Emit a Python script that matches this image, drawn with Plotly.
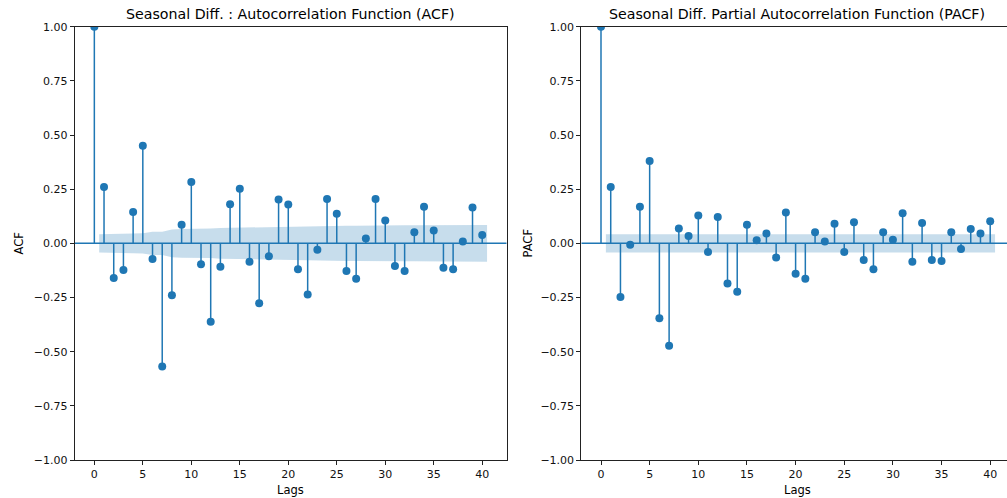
import plotly.graph_objects as go

lags = list(range(0, 41))

acf_vals = [1.0, 0.260, -0.160, -0.123, 0.145, 0.451, -0.072, -0.568, -0.239, 0.086,
            0.283, -0.097, -0.362, -0.108, 0.180, 0.252, -0.085, -0.276, -0.060, 0.202,
            0.179, -0.120, -0.236, -0.029, 0.205, 0.137, -0.128, -0.163, 0.022, 0.205,
            0.105, -0.105, -0.128, 0.051, 0.169, 0.059, -0.113, -0.120, 0.008, 0.165,
            0.038]

pacf_vals = [1.0, 0.260, -0.248, -0.006, 0.169, 0.380, -0.346, -0.473, 0.069, 0.034,
             0.129, -0.040, 0.122, -0.185, -0.223, 0.086, 0.014, 0.046, -0.065, 0.142,
             -0.140, -0.163, 0.051, 0.008, 0.091, -0.040, 0.097, -0.077, -0.120, 0.051,
             0.017, 0.139, -0.085, 0.094, -0.077, -0.082, 0.051, -0.026, 0.066, 0.046,
             0.102]

# confidence band half-widths for lags 1..40
acf_band = [0.042, 0.045, 0.046, 0.046, 0.047, 0.054, 0.054, 0.064, 0.066, 0.066,
            0.068, 0.068, 0.071, 0.072, 0.072, 0.074, 0.074, 0.076, 0.076, 0.077,
            0.078, 0.078, 0.079, 0.079, 0.080, 0.081, 0.081, 0.082, 0.082, 0.083,
            0.083, 0.083, 0.083, 0.083, 0.084, 0.084, 0.084, 0.085, 0.085, 0.085]
pacf_band = [0.042] * 40

ytick_vals = [1.0, 0.75, 0.5, 0.25, 0.0, -0.25, -0.5, -0.75, -1.0]
ytick_text = ["1.00", "0.75", "0.50", "0.25", "0.00", "\u22120.25", "\u22120.50", "\u22120.75", "\u22121.00"]
xtick_vals = [0, 5, 10, 15, 20, 25, 30, 35, 40]

BLUE = "#1f77b4"
FONT = "DejaVu Sans"
W, H = 1007, 498
XR = [-2.025, 42.525]

fig = go.Figure()


def add_panel(vals, band, xa, ya):
    sx, sy = [], []
    for k, v in zip(lags, vals):
        sx += [k, k, None]
        sy += [0, v, None]
    fig.add_trace(go.Scatter(x=sx, y=sy, mode="lines", line=dict(color=BLUE, width=1.5),
                             xaxis=xa, yaxis=ya, hoverinfo="skip", showlegend=False))
    fig.add_trace(go.Scatter(x=lags, y=vals, mode="markers",
                             marker=dict(color=BLUE, size=8),
                             xaxis=xa, yaxis=ya, showlegend=False))
    fig.add_trace(go.Scatter(x=XR, y=[0, 0], mode="lines",
                             line=dict(color=BLUE, width=1.5),
                             xaxis=xa, yaxis=ya, hoverinfo="skip", showlegend=False))
    bx = [float(k) for k in lags[1:]]
    bx[0] -= 0.5
    bx[-1] += 0.5
    fig.add_trace(go.Scatter(x=bx, y=[-b for b in band], mode="lines",
                             line=dict(width=0, color="rgba(0,0,0,0)"),
                             xaxis=xa, yaxis=ya, hoverinfo="skip", showlegend=False))
    fig.add_trace(go.Scatter(x=bx, y=band, mode="lines", fill="tonexty",
                             fillcolor="rgba(31,119,180,0.25)",
                             line=dict(width=0, color="rgba(0,0,0,0)"),
                             xaxis=xa, yaxis=ya, hoverinfo="skip", showlegend=False))


add_panel(acf_vals, acf_band, "x", "y")
add_panel(pacf_vals, pacf_band, "x2", "y2")

ydom = [1 - 460 / H, 1 - 26.7 / H]
axis_common = dict(showgrid=False, zeroline=False, showline=True, linecolor="#222", linewidth=1,
                   ticks="outside", ticklen=4, tickwidth=1, tickcolor="#222", automargin=False,
                   tickfont=dict(family=FONT, size=11, color="#111"))

px_right = 9.73

fig.update_layout(
    width=W, height=H,
    margin=dict(l=0, r=0, t=0, b=0, pad=0, autoexpand=False),
    paper_bgcolor="white", plot_bgcolor="white",
    font=dict(family=FONT, color="black"),
    showlegend=False,
    xaxis=dict(domain=[74.7 / W, 506.7 / W], range=XR, tickvals=xtick_vals,
               mirror=True, anchor="y", **axis_common),
    yaxis=dict(domain=ydom, range=[-1.0, 1.0], tickvals=ytick_vals, ticktext=ytick_text,
               mirror=True, anchor="x", **axis_common),
    xaxis2=dict(domain=[581.3 / W, 1.0], range=[XR[0], XR[0] + (W - 581.3) / px_right],
                tickvals=xtick_vals, mirror=True, anchor="y2", **axis_common),
    yaxis2=dict(domain=ydom, range=[-1.0, 1.0], tickvals=ytick_vals, ticktext=ytick_text,
                mirror=False, anchor="x2", **axis_common),
)

ann = [
    dict(text="Seasonal Diff. : Autocorrelation Function (ACF)", x=290.7 / W, y=1 - 14 / H,
         font=dict(size=14.2)),
    dict(text="Seasonal Diff. Partial Autocorrelation Function (PACF)", x=797 / W, y=1 - 14 / H,
         font=dict(size=14.2)),
    dict(text="Lags", x=290.7 / W, y=1 - 490 / H, font=dict(size=11.5)),
    dict(text="Lags", x=797.5 / W, y=1 - 490 / H, font=dict(size=11.5)),
    dict(text="ACF", x=18 / W, y=1 - 243.5 / H, font=dict(size=11.5), textangle=-90),
    dict(text="PACF", x=527 / W, y=1 - 243.5 / H, font=dict(size=11.5), textangle=-90),
]
for a in ann:
    a.update(xref="paper", yref="paper", showarrow=False, xanchor="center", yanchor="middle")
    a["font"].update(family=FONT, color="black")
fig.update_layout(annotations=ann)

fig.write_html("out.html")
